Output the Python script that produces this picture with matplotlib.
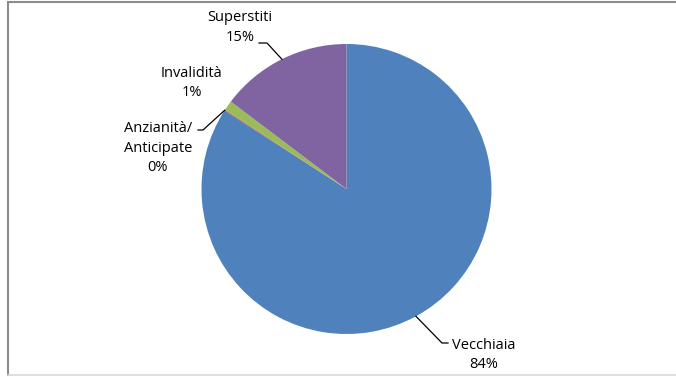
import numpy as np
import matplotlib.pyplot as plt
from matplotlib.lines import Line2D

labels = ['Vecchiaia', 'Anzianità/\nAnticipate', 'Invalidità', 'Superstiti']
values = [84.1, 0.1, 1.1, 14.7]
colors = ['#4F81BD', '#C0504D', '#9BBB59', '#8064A2']

W, H = 676, 377
plt.rcParams['font.family'] = ['Open Sans', 'DejaVu Sans']

fig = plt.figure(figsize=(W / 100, H / 100), dpi=100)
ax = fig.add_axes([0, 0, 1, 1])

cx, cy, r = 346.5, H - 189, 145
wedges, _ = ax.pie(values, colors=colors, startangle=90, counterclock=False,
                   center=(cx, cy), radius=r, wedgeprops=dict(linewidth=0))
ax.set_xlim(0, W)
ax.set_ylim(0, H)
ax.set_aspect('equal')
ax.axis('off')

pcts = np.array(values) / sum(values) * 100

# label text centre, leader elbow, leader end (pixel coords, y from top)
layout = {
    0: ((484, 355), (442, 343), (448, 343)),
    1: ((158, 148), (203, 130), (198, 130)),
    2: ((192, 83), None, None),
    3: ((240, 27.5), (267, 43), (259, 43)),
}

for i, w in enumerate(wedges):
    (tx, ty), elbow, end = layout[i]
    ax.text(tx, H - ty, f'{labels[i]}\n{pcts[i]:.0f}%', ha='center', va='center',
            fontsize=10.5, color='#000000', linespacing=1.45)
    if elbow is None:
        continue
    mid = np.deg2rad((w.theta1 + w.theta2) / 2)
    ax_x = cx + r * np.cos(mid)
    ax_y = cy + r * np.sin(mid)
    ax.plot([ax_x, elbow[0], end[0]], [ax_y, H - elbow[1], H - end[1]],
            color='black', lw=0.9)

# chart frame
fig.add_artist(Line2D([7.5 / W, 7.5 / W], [1 - 1.5 / H, 1 - 375 / H], color='#8c8c8c', lw=1.5))
fig.add_artist(Line2D([7.5 / W, 1], [1 - 1.5 / H, 1 - 1.5 / H], color='#8c8c8c', lw=1.5))
fig.add_artist(Line2D([7.5 / W, 1], [1 - 375 / H, 1 - 375 / H], color='#d9d9d9', lw=1.2))

fig.savefig('out.png', dpi=100)
